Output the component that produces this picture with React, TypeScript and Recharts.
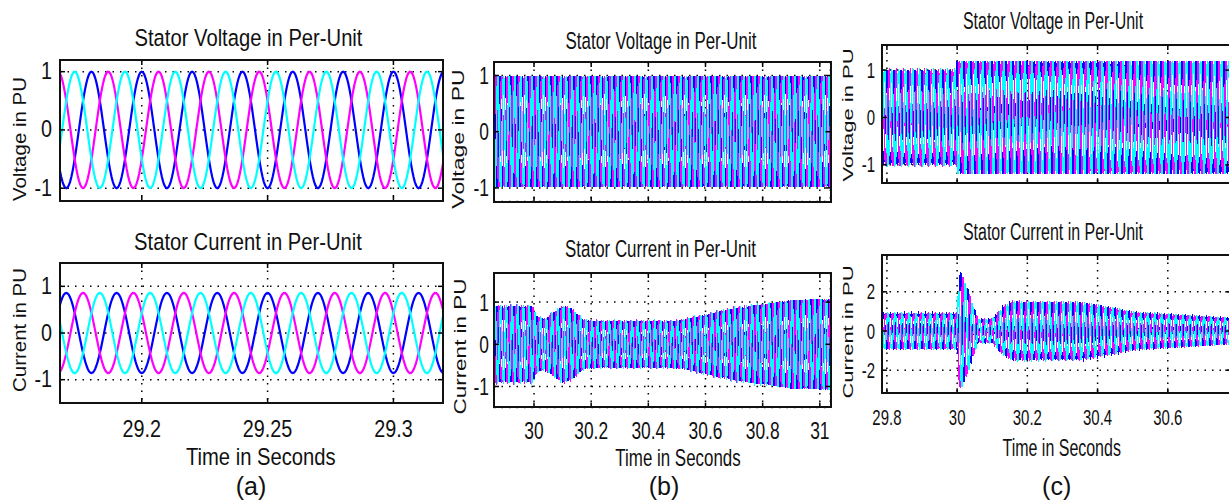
import React from "react";
import { LineChart, Line, XAxis, YAxis, CartesianGrid } from "recharts";

// 50 Hz three-phase quantities, phase colours as in the scope plots
const FREQ_HZ = 50;
const PHASE_KEYS = ["pa", "pb", "pc"];
const PHASE_COLORS = ["#0000ff", "#ff00ff", "#00ffff"];
const PHASE_LAG_DEG = [0, 120, 240];

// (a) steady state window: envelope knots (time s, peak pu)
const A_TIMES = [29.165, 29.322];
const A_VOLT_PEAK = [1.0, 1.0];
const A_CURR_PEAK = [0.86, 0.86];

// (b) disturbance at 30 s
const B_VOLT_TIMES = [29.855, 31.04];
const B_VOLT_PEAK = [0.99, 0.99];
const B_CURR_TIMES = [29.855, 29.995, 30.01, 30.04, 30.1, 30.13, 30.17, 30.2, 30.5, 30.6, 30.7, 30.8, 30.9, 31.04];
const B_CURR_PEAK = [0.9, 0.9, 0.65, 0.6, 0.92, 0.85, 0.6, 0.55, 0.55, 0.7, 0.85, 0.95, 1.05, 1.08];

// (c) voltage step and fault current at 30 s
const C_VOLT_TIMES = [29.78, 29.999, 30.0, 30.78];
const C_VOLT_PEAK = [1.0, 1.0, 1.2, 1.2];
const C_CURR_TIMES = [29.78, 30.0, 30.008, 30.015, 30.03, 30.045, 30.06, 30.1, 30.13, 30.16, 30.35, 30.45, 30.5, 30.6, 30.78];
const C_CURR_PEAK = [0.9, 0.9, 3.1, 2.8, 2.2, 1.3, 0.6, 0.6, 1.2, 1.5, 1.45, 1.15, 0.95, 0.85, 0.65];

// axis ticks
const A_X_TICKS = [29.2, 29.25, 29.3];
const B_X_TICKS = [30, 30.2, 30.4, 30.6, 30.8, 31];
const C_X_TICKS = [29.8, 30, 30.2, 30.4, 30.6];
const UNIT_TICKS = [-1, 0, 1];
const C_CURR_TICKS = [-2, 0, 2];

const FONT = "'Liberation Sans', Arial, Helvetica, sans-serif";
const INK = "#111";

function peakAt(times: number[], peaks: number[], t: number) {
  if (t <= times[0]) return peaks[0];
  for (let i = 1; i < times.length; i++) {
    if (t <= times[i]) {
      const f = (t - times[i - 1]) / (times[i] - times[i - 1]);
      return peaks[i - 1] + f * (peaks[i] - peaks[i - 1]);
    }
  }
  return peaks[peaks.length - 1];
}

function buildWaves(times: number[], peaks: number[], step: number, shiftDeg: number) {
  const rows: any[] = [];
  const t0 = times[0];
  const n = Math.round((times[times.length - 1] - t0) / step);
  for (let i = 0; i <= n; i++) {
    const t = t0 + i * step;
    const amp = peakAt(times, peaks, t);
    const row: any = { t };
    PHASE_KEYS.forEach((k, j) => {
      const ph = ((PHASE_LAG_DEG[j] + shiftDeg) * Math.PI) / 180;
      row[k] = amp * Math.cos(2 * Math.PI * FREQ_HZ * t - ph);
    });
    rows.push(row);
  }
  return rows;
}

const aVolt = buildWaves(A_TIMES, A_VOLT_PEAK, 0.0005, 0);
const aCurr = buildWaves(A_TIMES, A_CURR_PEAK, 0.0005, 180);
const bVolt = buildWaves(B_VOLT_TIMES, B_VOLT_PEAK, 0.001, 0);
const bCurr = buildWaves(B_CURR_TIMES, B_CURR_PEAK, 0.001, 180);
const cVolt = buildWaves(C_VOLT_TIMES, C_VOLT_PEAK, 0.001, 0);
const cCurr = buildWaves(C_CURR_TIMES, C_CURR_PEAK, 0.001, 180);

const PAD_L = 70;
const PAD_T = 10;
const PAD_R = 10;
const PAD_B = 50;

type PanelProps = {
  data: any[];
  left: number;
  top: number;
  right: number;
  bottom: number;
  xDomain: [number, number];
  yDomain: [number, number];
  xTicks: number[];
  yTicks: number[];
  xLabels: boolean;
  sx: number;
  tickSize: number;
  yGap: number;
  xDy: number;
  lineWidth: number;
  crisp?: boolean;
};

function Panel(p: PanelProps) {
  const plotW = p.right - p.left;
  const plotH = p.bottom - p.top;
  const w = PAD_L + plotW + PAD_R;
  const h = PAD_T + plotH + PAD_B;
  const pTop = PAD_T;
  const pBot = PAD_T + plotH;
  const pLeft = PAD_L;
  const pRight = PAD_L + plotW;

  const xTick = (props: any) => {
    const { x, payload } = props;
    return (
      <g>
        <line x1={x} x2={x} y1={pBot} y2={pBot - 5} stroke="#000" strokeWidth={1.5} />
        <line x1={x} x2={x} y1={pTop} y2={pTop + 5} stroke="#000" strokeWidth={1.5} />
        {p.xLabels && (
          <text
            transform={`translate(${x},${pBot + p.xDy}) scale(${p.sx},1)`}
            textAnchor="middle"
            fontSize={p.tickSize}
            fontFamily={FONT}
            fill={INK}
          >
            {String(payload.value)}
          </text>
        )}
      </g>
    );
  };

  const yTick = (props: any) => {
    const { y, payload } = props;
    return (
      <g>
        <line x1={pLeft} x2={pLeft + 5} y1={y} y2={y} stroke="#000" strokeWidth={1.5} />
        <line x1={pRight} x2={pRight - 5} y1={y} y2={y} stroke="#000" strokeWidth={1.5} />
        <text
          transform={`translate(${pLeft - p.yGap},${y}) scale(${p.sx},1)`}
          textAnchor="end"
          dominantBaseline="central"
          fontSize={p.tickSize}
          fontFamily={FONT}
          fill={INK}
        >
          {String(payload.value)}
        </text>
      </g>
    );
  };

  return (
    <div style={{ position: "absolute", left: p.left - PAD_L, top: p.top - PAD_T }}>
      <LineChart width={w} height={h} data={p.data} margin={{ top: PAD_T, right: PAD_R, left: 0, bottom: 0 }}>
        <CartesianGrid stroke="#000" strokeWidth={1.5} strokeDasharray="1.5 6" />
        <XAxis
          dataKey="t"
          type="number"
          domain={p.xDomain}
          ticks={p.xTicks}
          interval={0}
          allowDataOverflow
          height={PAD_B}
          axisLine={false}
          tickLine={false}
          tick={xTick}
        />
        <YAxis
          type="number"
          domain={p.yDomain}
          ticks={p.yTicks}
          interval={0}
          allowDataOverflow
          width={PAD_L}
          axisLine={false}
          tickLine={false}
          tick={yTick}
        />
        {PHASE_KEYS.map((k, i) => (
          <Line
            key={k}
            dataKey={k}
            type="linear"
            stroke={PHASE_COLORS[i]}
            strokeWidth={p.lineWidth}
            shapeRendering={p.crisp ? "crispEdges" : "auto"}
            dot={false}
            activeDot={false}
            isAnimationActive={false}
          />
        ))}
      </LineChart>
      <div
        style={{
          position: "absolute",
          left: PAD_L - 1,
          top: PAD_T - 1,
          width: plotW + 2,
          height: plotH + 2,
          border: "2px solid #111",
          boxSizing: "border-box",
          pointerEvents: "none",
        }}
      />
    </div>
  );
}

function Caption({ x, y, text, size, sx, rotate }: { x: number; y: number; text: string; size: number; sx: number; rotate?: boolean }) {
  const transform = rotate
    ? `translate(${x},${y}) rotate(-90) scale(1,${sx})`
    : `translate(${x},${y}) scale(${sx},1)`;
  return (
    <text
      transform={transform}
      textAnchor="middle"
      dominantBaseline={rotate ? "central" : "alphabetic"}
      fontSize={size}
      fontFamily={FONT}
      fill={INK}
    >
      {text}
    </text>
  );
}

export default function App() {
  return (
    <div style={{ position: "absolute", left: 0, top: 0, width: 1229, height: 503, overflow: "hidden", background: "#fff" }}>
      {/* (a) */}
      <Panel data={aVolt} left={60} top={60} right={443} bottom={201} xDomain={[29.1675, 29.3197]} yDomain={[-1.22, 1.2]}
        xTicks={A_X_TICKS} yTicks={UNIT_TICKS} xLabels={false} sx={0.86} tickSize={23} yGap={8} xDy={34} lineWidth={2.2} />
      <Panel data={aCurr} left={60} top={262.7} right={443} bottom={402.7} xDomain={[29.1675, 29.3197]} yDomain={[-1.5, 1.5]}
        xTicks={A_X_TICKS} yTicks={UNIT_TICKS} xLabels sx={0.86} tickSize={23} yGap={8} xDy={34} lineWidth={2.2} />
      {/* (b) */}
      <Panel data={bVolt} left={494.3} top={62.3} right={830.7} bottom={201.7} xDomain={[29.86, 31.037]} yDomain={[-1.24, 1.24]}
        xTicks={B_X_TICKS} yTicks={UNIT_TICKS} xLabels={false} sx={0.74} tickSize={23.5} yGap={5} xDy={31} lineWidth={1.5} crisp />
      <Panel data={bCurr} left={494.3} top={272.7} right={830.7} bottom={407.3} xDomain={[29.86, 31.037]} yDomain={[-1.5, 1.69]}
        xTicks={B_X_TICKS} yTicks={UNIT_TICKS} xLabels sx={0.74} tickSize={23.5} yGap={5} xDy={31} lineWidth={1.5} crisp />
      {/* (c) */}
      <Panel data={cVolt} left={881.7} top={45} right={1230} bottom={183.3} xDomain={[29.786, 30.778]} yDomain={[-1.39, 1.53]}
        xTicks={C_X_TICKS} yTicks={UNIT_TICKS} xLabels={false} sx={0.68} tickSize={22} yGap={7} xDy={32} lineWidth={1.5} crisp />
      <Panel data={cCurr} left={881.7} top={255} right={1230} bottom={393.3} xDomain={[29.786, 30.778]} yDomain={[-3.18, 3.88]}
        xTicks={C_X_TICKS} yTicks={C_CURR_TICKS} xLabels sx={0.68} tickSize={22} yGap={7} xDy={32} lineWidth={1.5} crisp />

      <svg width={1229} height={503} style={{ position: "absolute", left: 0, top: 0, pointerEvents: "none" }}>
        <Caption x={248.5} y={46} text="Stator Voltage in Per-Unit" size={23.5} sx={0.86} />
        <Caption x={248} y={250} text="Stator Current in Per-Unit" size={23.5} sx={0.86} />
        <Caption x={20} y={139} text="Voltage in PU" size={20.5} sx={0.86} rotate />
        <Caption x={20} y={330} text="Current in PU" size={20.5} sx={0.86} rotate />
        <Caption x={260.8} y={465} text="Time in Seconds" size={23.5} sx={0.86} />
        <Caption x={251} y={494.5} text="(a)" size={25} sx={1} />

        <Caption x={661} y={49} text="Stator Voltage in Per-Unit" size={23.5} sx={0.72} />
        <Caption x={660.5} y={256.5} text="Stator Current in Per-Unit" size={23.5} sx={0.72} />
        <Caption x={458} y={139} text="Voltage in PU" size={23} sx={0.72} rotate />
        <Caption x={460} y={346.5} text="Current in PU" size={22.5} sx={0.72} rotate />
        <Caption x={678} y={466} text="Time in Seconds" size={23.5} sx={0.72} />
        <Caption x={664} y={494.5} text="(b)" size={25} sx={1} />

        <Caption x={1053} y={28.5} text="Stator Voltage in Per-Unit" size={23.5} sx={0.68} />
        <Caption x={1053} y={240} text="Stator Current in Per-Unit" size={23.5} sx={0.68} />
        <Caption x={848} y={115} text="Voltage in PU" size={22} sx={0.68} rotate />
        <Caption x={848} y={332} text="Current in PU" size={22} sx={0.68} rotate />
        <Caption x={1061.7} y={456} text="Time in Seconds" size={23.5} sx={0.68} />
        <Caption x={1056.7} y={494.5} text="(c)" size={25} sx={1} />
      </svg>
    </div>
  );
}
